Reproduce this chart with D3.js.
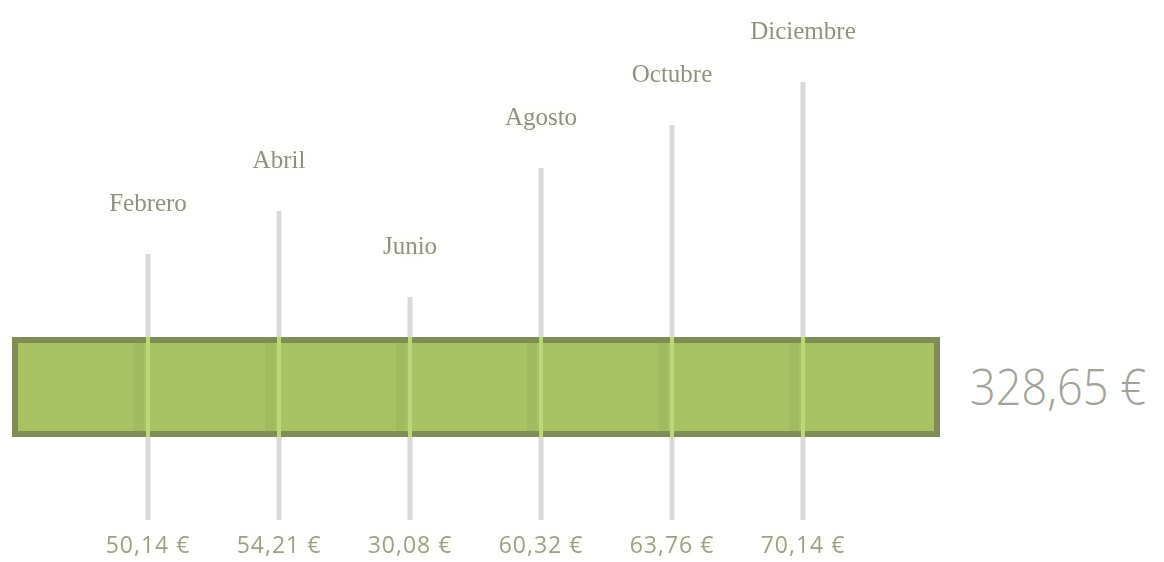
<!DOCTYPE html>
<html>
<head>
<meta charset="utf-8">
<script src="https://cdn.jsdelivr.net/npm/d3@7"></script>
<style>
  body { margin: 0; background: #fff; }
  svg { display: block; }
</style>
</head>
<body>
<svg id="chart" width="1164" height="562"></svg>
<script>
const months = ['Febrero', 'Abril', 'Junio', 'Agosto', 'Octubre', 'Diciembre'];
const values = [50.14, 54.21, 30.08, 60.32, 63.76, 70.14];

const width = 1164, height = 562;
const bar = { x0: 12, x1: 940, top: 337, bottom: 437 };
const lineBottom = 520;

const svg = d3.select('#chart');

const fmt = v => d3.format('.2f')(v).replace('.', ',') + ' €';

// months along the bar
const x = d3.scalePoint()
  .domain(months)
  .range([148, 803]);

// line height goes with the rank of the value
const ranked = months.slice().sort((a, b) => values[months.indexOf(a)] - values[months.indexOf(b)]);
const yTop = d3.scalePoint()
  .domain(ranked)
  .range([297, 82]);

const data = months.map((m, i) => ({ month: m, value: values[i] }));

// soft glow behind the labels
const defs = svg.append('defs');
const glow = defs.append('filter').attr('id', 'glow')
  .attr('x', '-30%').attr('y', '-60%').attr('width', '160%').attr('height', '220%');
glow.append('feGaussianBlur').attr('in', 'SourceAlpha').attr('stdDeviation', 6).attr('result', 'b');
glow.append('feFlood').attr('flood-color', '#f6f8dc').attr('flood-opacity', 0.9);
glow.append('feComposite').attr('in2', 'b').attr('operator', 'in').attr('result', 'g');
const merge = glow.append('feMerge');
merge.append('feMergeNode').attr('in', 'g');
merge.append('feMergeNode').attr('in', 'SourceGraphic');

// grey stems
svg.append('g').selectAll('line').data(data)
  .enter().append('line')
  .attr('x1', d => x(d.month))
  .attr('x2', d => x(d.month))
  .attr('y1', d => yTop(d.month))
  .attr('y2', lineBottom)
  .attr('stroke', '#d9d9d6')
  .attr('stroke-width', 5);

// total bar
svg.append('rect')
  .attr('x', bar.x0 + 3)
  .attr('y', bar.top + 3)
  .attr('width', bar.x1 - bar.x0 - 6)
  .attr('height', bar.bottom - bar.top - 6)
  .attr('fill', '#a9c264')
  .attr('stroke', '#7f8c55')
  .attr('stroke-width', 6);

// stems seen through the bar
const thru = svg.append('g');
thru.selectAll('rect.shade').data(data)
  .enter().append('rect')
  .attr('class', 'shade')
  .attr('x', d => x(d.month) - 14)
  .attr('y', bar.top + 6)
  .attr('width', 10)
  .attr('height', bar.bottom - bar.top - 12)
  .attr('fill', '#9bb25c')
  .attr('opacity', 0.5);
thru.selectAll('line').data(data)
  .enter().append('line')
  .attr('x1', d => x(d.month))
  .attr('x2', d => x(d.month))
  .attr('y1', bar.top)
  .attr('y2', bar.bottom)
  .attr('stroke', '#bcd67a')
  .attr('stroke-width', 4);

// month names above each stem
svg.append('g').selectAll('text').data(data)
  .enter().append('text')
  .attr('x', d => x(d.month))
  .attr('y', d => yTop(d.month) - 43)
  .attr('text-anchor', 'middle')
  .attr('font-family', 'Liberation Serif, serif')
  .attr('font-size', 25)
  .attr('fill', '#8f8f86')
  .attr('filter', 'url(#glow)')
  .text(d => d.month);

// values under each stem
svg.append('g').selectAll('text').data(data)
  .enter().append('text')
  .attr('x', d => x(d.month))
  .attr('y', 553)
  .attr('text-anchor', 'middle')
  .attr('font-family', 'Open Sans, sans-serif')
  .attr('font-size', 23)
  .attr('letter-spacing', 1)
  .attr('fill', '#9c9e8a')
  .attr('filter', 'url(#glow)')
  .text(d => fmt(d.value));

// total
svg.append('text')
  .attr('x', 970)
  .attr('y', 405)
  .attr('font-family', 'Open Sans, sans-serif')
  .attr('font-weight', 300)
  .attr('font-size', 49)
  .attr('textLength', 176)
  .attr('lengthAdjust', 'spacingAndGlyphs')
  .attr('fill', '#a1a39a')
  .text(fmt(d3.sum(values)));
</script>
</body>
</html>
